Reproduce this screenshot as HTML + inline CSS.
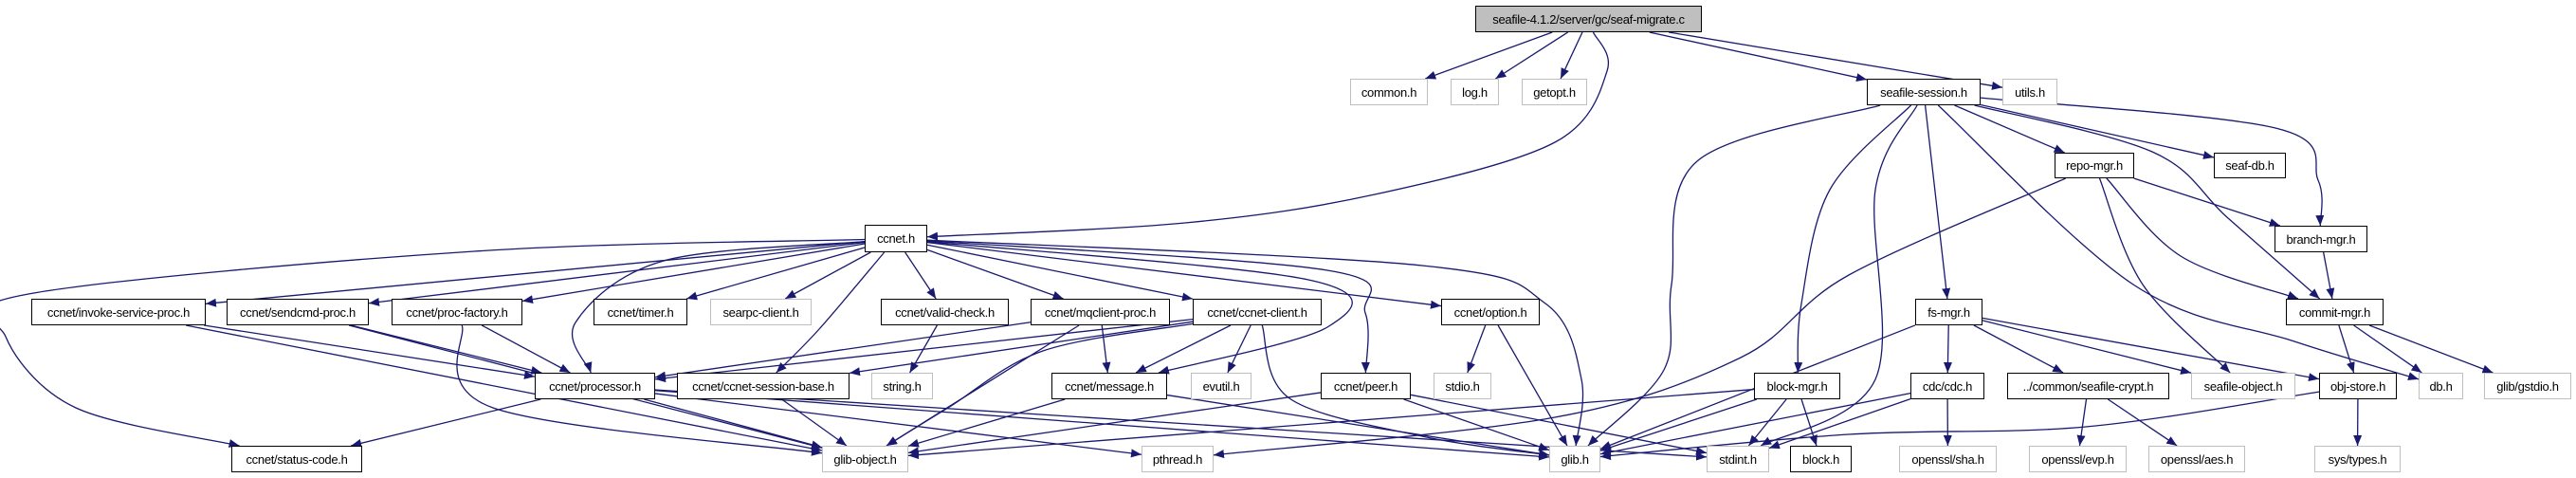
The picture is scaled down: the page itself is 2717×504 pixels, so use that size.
<!DOCTYPE html>
<html><head><meta charset="utf-8">
<style>
html,body{margin:0;padding:0;background:#fff;}
#c{position:relative;width:2717px;height:504px;overflow:hidden;font-family:"Liberation Sans",Arial,sans-serif;}
.n{position:absolute;box-sizing:border-box;border:1.5px solid #000;background:#fff;font-size:13px;color:#000;display:flex;align-items:center;justify-content:center;white-space:nowrap;letter-spacing:-0.3px;}
.g{border-color:#bfbfbf;}
.t{background:#bfbfbf;}
svg{position:absolute;left:0;top:0;}
</style></head><body>
<div id="c">
<svg id="s" width="2717" height="504"><defs><marker id="a" markerUnits="userSpaceOnUse" markerWidth="12" markerHeight="10" refX="11" refY="4.5" orient="auto"><path d="M0,0 L11,4.5 L0,9 z" fill="#191970"/></marker></defs></svg>
<div id="nodes"></div>
</div>
<script>
var N={
top:[1556,6,1795,34,"seafile-4.1.2/server/gc/seaf-migrate.c",2],
common:[1424,83,1506,111,"common.h",1],
log:[1530,83,1581,111,"log.h",1],
getopt:[1605,83,1674,111,"getopt.h",1],
ss:[1969,83,2089,111,"seafile-session.h",0],
utils:[2112,83,2170,111,"utils.h",1],
repo:[2167,161,2251,188,"repo-mgr.h",0],
seafdb:[2335,161,2411,188,"seaf-db.h",0],
branch:[2399,238,2497,266,"branch-mgr.h",0],
commit:[2411,315,2514,343,"commit-mgr.h",0],
fs:[2020,315,2091,343,"fs-mgr.h",0],
cdc:[2015,393,2093,421,"cdc/cdc.h",0],
crypt:[2117,393,2288,421,"../common/seafile-crypt.h",0],
sobj:[2311,393,2421,421,"seafile-object.h",1],
obj:[2446,393,2528,421,"obj-store.h",0],
db:[2551,393,2598,421,"db.h",1],
gstdio:[2620,393,2712,421,"glib/gstdio.h",1],
sha:[2003,470,2106,498,"openssl/sha.h",1],
evp:[2140,470,2243,498,"openssl/evp.h",1],
aes:[2266,470,2368,498,"openssl/aes.h",1],
systypes:[2441,470,2532,498,"sys/types.h",1],
option:[1520,315,1624,343,"ccnet/option.h",0],
stdio:[1512,393,1573,421,"stdio.h",1],
peer:[1393,393,1488,421,"ccnet/peer.h",0],
block:[1850,393,1941,421,"block-mgr.h",0],
glib:[1634,470,1688,498,"glib.h",1],
stdint:[1800,470,1866,498,"stdint.h",1],
blockh:[1888,470,1953,498,"block.h",0],
ccnet:[912,237,978,266,"ccnet.h",0],
timer:[626,315,725,343,"ccnet/timer.h",0],
searpc:[749,315,856,343,"searpc-client.h",1],
valid:[929,315,1064,343,"ccnet/valid-check.h",0],
mq:[1087,315,1234,343,"ccnet/mqclient-proc.h",0],
client:[1258,315,1394,343,"ccnet/ccnet-client.h",0],
proc:[564,393,691,421,"ccnet/processor.h",0],
sbase:[714,393,896,421,"ccnet/ccnet-session-base.h",0],
string:[919,393,984,421,"string.h",1],
msg:[1109,393,1231,421,"ccnet/message.h",0],
evutil:[1256,393,1320,421,"evutil.h",1],
gobj:[867,470,958,498,"glib-object.h",1],
pthread:[1204,470,1280,498,"pthread.h",1],
invoke:[33,315,217,343,"ccnet/invoke-service-proc.h",0],
sendcmd:[239,315,389,343,"ccnet/sendcmd-proc.h",0],
pfact:[413,315,551,343,"ccnet/proc-factory.h",0],
status:[244,470,382,498,"ccnet/status-code.h",0]
};
var E=[
["top","common"],["top","log"],["top","getopt"],["top","ss"],["top","utils"],
["top","ccnet",[[1695,75],[1640,150],[1450,205],[1250,235]]],
["ss","glib",[[1790,170],[1763,300],[1755,390]]],
["ss","block",[[1930,200],[1900,320]]],
["ss","stdint",[[1978,200],[1978,400]]],
["ss","fs"],["ss","repo"],["ss","seafdb"],
["ss","branch",[[2400,135],[2445,190]]],
["ss","commit",[[2270,160],[2350,230]]],
["ss","db",[[2250,300],[2420,360]]],
["repo","pthread",[[1950,290],[1836,377],[1640,440]]],
["repo","branch"],
["repo","commit",[[2300,270]]],
["repo","sobj",[[2260,300]]],
["branch","commit"],
["commit","obj"],["commit","db"],["commit","gstdio"],
["fs","glib"],["fs","cdc"],["fs","crypt"],["fs","sobj"],["fs","obj"],
["cdc","glib"],["cdc","stdint"],["cdc","sha"],
["crypt","evp"],["crypt","aes"],
["obj","glib",[[2200,450],[1950,458]]],["obj","systypes"],
["block","gobj"],["block","glib"],["block","stdint"],["block","blockh"],
["ccnet","status",[[500,265],[30,310],[6,355],[80,430]]],
["ccnet","invoke"],["ccnet","sendcmd"],["ccnet","pfact"],
["ccnet","proc",[[700,275],[607,340]]],
["ccnet","sbase",[[864,347]]],
["ccnet","timer"],["ccnet","searpc"],["ccnet","valid"],["ccnet","mq"],["ccnet","client"],["ccnet","option"],
["ccnet","peer",[[1400,285],[1440,330]]],
["ccnet","msg",[[1380,295],[1400,345]]],
["ccnet","glib",[[1500,280],[1630,320],[1668,400]]],
["valid","string"],
["mq","proc"],["mq","gobj"],["mq","msg"],
["client","proc"],["client","sbase"],["client","msg"],["client","evutil"],["client","gobj",[[1100,370],[1000,430]]],["client","glib",[[1360,420],[1500,460]]],
["option","stdio"],["option","glib"],
["peer","gobj"],["peer","glib"],["peer","stdint"],
["msg","gobj"],["msg","glib"],
["proc","status"],["proc","gobj"],["proc","glib"],["proc","pthread"],["proc","stdint"],
["sbase","gobj"],
["invoke","proc"],["invoke","gobj"],
["sendcmd","proc"],["sendcmd","gobj"],
["pfact","proc"],["pfact","gobj",[[520,430]]]
];
function ctr(r){return [(r[0]+r[2])/2,(r[1]+r[3])/2];}
function clip(r,p){var c=ctr(r),dx=p[0]-c[0],dy=p[1]-c[1],hw=(r[2]-r[0])/2,hh=(r[3]-r[1])/2;
var t=Math.min(dx?hw/Math.abs(dx):1e9,dy?hh/Math.abs(dy):1e9);return [c[0]+dx*t,c[1]+dy*t];}
var h="";
for(var k in N){var r=N[k];h+='<div class="n'+(r[5]==1?' g':'')+(r[5]==2?' t':'')+'" style="left:'+r[0]+'px;top:'+r[1]+'px;width:'+(r[2]-r[0])+'px;height:'+(r[3]-r[1])+'px">'+r[4]+'</div>';}
document.getElementById("nodes").innerHTML=h;
var s="";
E.forEach(function(e){var a=N[e[0]],b=N[e[1]],v=e[2]||[];
var p0=clip(a,v.length?v[0]:ctr(b)),p1=clip(b,v.length?v[v.length-1]:ctr(a));
var pts=[p0].concat(v).concat([p1]);var d="M"+pts[0][0]+","+pts[0][1];
if(pts.length==2){d+=" L"+p1[0]+","+p1[1];}else{
for(var i=0;i<pts.length-1;i++){var P0=pts[Math.max(i-1,0)],P1=pts[i],P2=pts[i+1],P3=pts[Math.min(i+2,pts.length-1)];
var c1=[P1[0]+(P2[0]-P0[0])/6,P1[1]+(P2[1]-P0[1])/6],c2=[P2[0]-(P3[0]-P1[0])/6,P2[1]-(P3[1]-P1[1])/6];
d+=" C"+c1[0]+","+c1[1]+" "+c2[0]+","+c2[1]+" "+P2[0]+","+P2[1];}}
s+='<path d="'+d+'" fill="none" stroke="#191970" stroke-width="1.3" marker-end="url(#a)"/>';});
document.getElementById("s").insertAdjacentHTML("beforeend",s);
</script>
</body></html>
